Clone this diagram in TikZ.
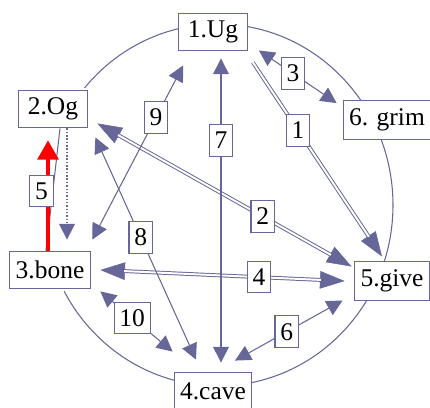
\documentclass[tikz,border=0pt]{standalone}
\usepackage{fontspec}
\setmainfont{Liberation Serif}
\usetikzlibrary{arrows.meta,calc}
\definecolor{ec}{RGB}{102,102,153}
\begin{document}
\begin{tikzpicture}[x=0.02cm,y=-0.02cm,
  every node/.style={font=\fontsize{14.5}{16}\selectfont},
  vbox/.style={draw=ec,fill=white,line width=0.6pt,inner sep=0pt},
  lbl/.style={draw=ec,fill=white,line width=0.6pt,inner xsep=3pt,inner ysep=0pt,minimum height=18pt,text=black},
  edge/.style={draw=ec,line width=0.6pt},
  tipb/.style={{Triangle[length=9pt,width=9pt]}-{Triangle[length=9pt,width=9pt]}},
  tipe/.style={-{Triangle[length=9pt,width=9pt]}},
  dblb/.style={draw=ec,line width=2.2pt,
    {Triangle[length=14pt,width=10pt,line width=0.3pt]}-{Triangle[length=14pt,width=10pt,line width=0.3pt]},
    postaction={draw=white,line width=1.1pt,-,shorten <=13.5pt,shorten >=13.5pt}},
  dble/.style={draw=ec,line width=2.2pt,
    -{Triangle[length=14pt,width=10pt,line width=0.3pt]},
    postaction={draw=white,line width=1.1pt,-,shorten >=13.5pt}}
]
\useasboundingbox (0,0) rectangle (430,407);
\draw[ec, line width=0.6pt] (218,205) ++(220.3:175 and 181) arc[start angle=220.3, end angle=511.5, x radius=175, y radius=181];

\node[vbox, minimum width=39.1pt, minimum height=21.5pt] (n1) at (213,32) {1.Ug};
\node[vbox, minimum width=39.1pt, minimum height=21.5pt] (n2) at (53,109) {2.Og};
\node[vbox, minimum width=49.9pt, minimum height=22.1pt] (n6) at (387,120) {6. grim};
\node[vbox, minimum width=45.9pt, minimum height=21.5pt] (n3) at (50,270) {3.bone};
\node[vbox, minimum width=43.1pt, minimum height=22.7pt] (n5) at (392,281) {5.give};
\node[vbox, minimum width=44.2pt, minimum height=21.5pt] (n4) at (213,391) {4.cave};

% 1
\draw[dble] ($(n1.south east)+(5,11)$) -- node[lbl,pos=0.35]{1} ($(n5.north)+(-10,-4)$);
% 2
\draw[dblb] ($(n5.north west)+(-2,6)$) -- node[lbl,pos=0.35]{2} ($(n2.south east)+(9.5,-5)$);
% 3
\draw[edge, tipb] ($(n1.south east)+(11,-1)$) -- node[lbl,pos=0.44]{3} ($(n6.north west)+(-6,3)$);
% 4
\draw[dblb] ($(n3.east)+(9.5,0)$) -- node[lbl,pos=0.65]{4} ($(n5.west)+(-9,0)$);
% 5
\draw[edge] ($(n2.south)+(7,0)$) -- ($(n3.north)+(-4,0)$);
\draw[red, line width=1.8pt, -{Triangle[length=11pt,width=12pt]}] ($(n3.north)+(-2,0)$) -- node[lbl,pos=0.54,xshift=-3.7pt]{5} ($(n2.south)+(-5,12)$);
% dotted
\draw[edge, line width=0.9pt, densely dotted, tipe] ($(n2.south)+(14,0)$) -- ($(n3.north)+(17,-11)$);
% 6
\draw[edge, tipb] ($(n4.north)+(22,-11)$) -- node[lbl,pos=0.48]{6} ($(n5.south west)+(-11,-1)$);
% 7
\draw[edge, tipb] ($(n1.south)+(8,7)$) -- node[lbl,pos=0.27]{7} ($(n4.north)+(8,-9)$);
% 8
\draw[edge, tipb] ($(n2.south east)+(7.5,9)$) -- node[lbl,pos=0.45]{8} ($(n4.north)+(-17,-12)$);
% 9
\draw[edge, tipb] ($(n3.north east)+(1.5,-11)$) -- node[lbl,pos=0.70]{9} ($(n1.south west)+(5,14)$);
% 10
\draw[edge, tipb] ($(n3.south east)+(9.5,2)$) -- node[lbl,pos=0.44]{10} ($(n4.north west)+(-1,-20)$);
\end{tikzpicture}
\end{document}
